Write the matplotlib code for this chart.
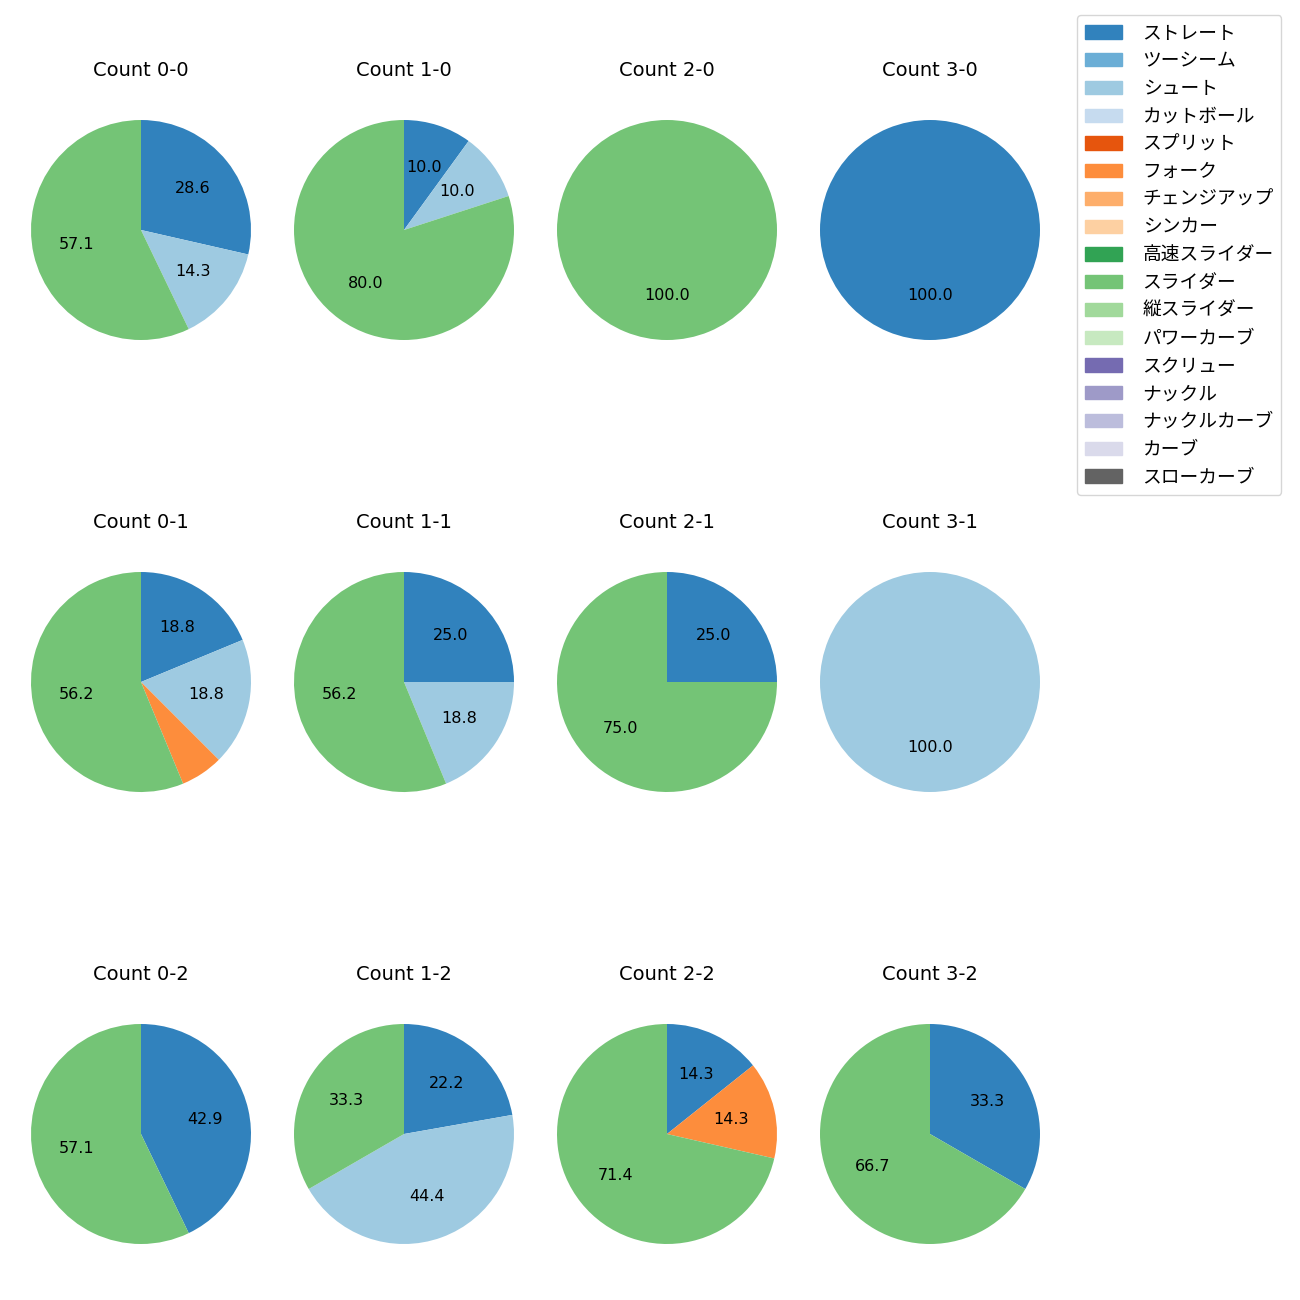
import matplotlib
matplotlib.use("Agg")
import matplotlib.pyplot as plt
from matplotlib.patches import Patch

plt.rcParams['font.family'] = ['DejaVu Sans', 'Noto Sans CJK JP']

# pitch types and their colours (tab20c order)
pitch_types = ['ストレート', 'ツーシーム', 'シュート', 'カットボール', 'スプリット', 'フォーク',
               'チェンジアップ', 'シンカー', '高速スライダー', 'スライダー', '縦スライダー',
               'パワーカーブ', 'スクリュー', 'ナックル', 'ナックルカーブ', 'カーブ', 'スローカーブ']
pitch_colors = ['#3182bd', '#6baed6', '#9ecae1', '#c6dbef', '#e6550d', '#fd8d3c',
                '#fdae6b', '#fdd0a2', '#31a354', '#74c476', '#a1d99b', '#c7e9c0',
                '#756bb1', '#9e9ac8', '#bcbddc', '#dadaeb', '#636363']

# pitch counts per ball-strike count
count_labels = ['0-0', '1-0', '2-0', '3-0',
                '0-1', '1-1', '2-1', '3-1',
                '0-2', '1-2', '2-2', '3-2']
count_pitches = [
    {'ストレート': 2, 'シュート': 1, 'スライダー': 4},
    {'ストレート': 1, 'シュート': 1, 'スライダー': 8},
    {'スライダー': 1},
    {'ストレート': 1},
    {'ストレート': 3, 'シュート': 3, 'フォーク': 1, 'スライダー': 9},
    {'ストレート': 4, 'シュート': 3, 'スライダー': 9},
    {'ストレート': 1, 'スライダー': 3},
    {'シュート': 1},
    {'ストレート': 3, 'スライダー': 4},
    {'ストレート': 2, 'シュート': 4, 'スライダー': 3},
    {'ストレート': 1, 'フォーク': 1, 'スライダー': 5},
    {'ストレート': 1, 'スライダー': 2},
]

W = H = 1300
fig = plt.figure(figsize=(13, 13), dpi=100)
size = 275

for i, (label, pitches) in enumerate(zip(count_labels, count_pitches)):
    r, c = divmod(i, 4)
    cx = 141 + 263 * c
    cy = 230 + 452 * r
    ax = fig.add_axes([(cx - size / 2) / W, 1 - (cy + size / 2) / H, size / W, size / H])
    names = [p for p in pitch_types if p in pitches]
    vals = [pitches[p] for p in names]
    cols = [pitch_colors[pitch_types.index(p)] for p in names]
    ax.pie(vals, colors=cols, startangle=90, counterclock=False,
           autopct=lambda p: f'{p:.1f}' if p >= 10 else '', pctdistance=0.6,
           textprops={'fontsize': 11.5})
    ax.set_title(f'Count {label}', fontsize=14, pad=12)

handles = [Patch(color=col, label=name) for name, col in zip(pitch_types, pitch_colors)]
fig.legend(handles=handles, loc='upper left', bbox_to_anchor=(1077 / W, 1 - 15 / H),
           borderaxespad=0, labelspacing=0.36, handletextpad=1.1,
           prop={'family': 'Noto Sans CJK JP', 'size': 13.5})

fig.savefig('out.png')
